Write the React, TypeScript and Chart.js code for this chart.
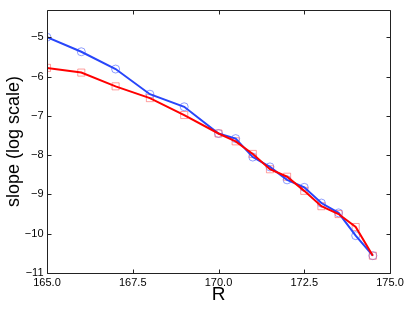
import React, { useEffect, useRef } from "react";
import { Chart, registerables } from "chart.js";

Chart.register(...registerables);

const rValues = [165, 166, 167, 168, 169, 170, 170.5, 171, 171.5, 172, 172.5, 173, 173.5, 174, 174.5];
const blueSlope = [-5.0, -5.37, -5.81, -6.45, -6.77, -7.45, -7.58, -8.05, -8.3, -8.63, -8.82, -9.22, -9.47, -10.05, -10.56];
const redSlope = [-5.78, -5.9, -6.25, -6.55, -6.98, -7.45, -7.65, -7.97, -8.36, -8.55, -8.91, -9.3, -9.5, -9.83, -10.56];
const xTicks = [165, 167.5, 170, 172.5, 175];
const yTicks = [-11, -10, -9, -8, -7, -6, -5];
const xTitle = "R";
const yTitle = "slope (log scale)";

const FONT = "'Liberation Sans', Arial, Helvetica, sans-serif";

const toPts = (ys: number[]) => rValues.map((x, i) => ({ x, y: ys[i] }));

const framePlugin = {
  id: "frame",
  afterDraw(chart: any) {
    const { ctx, chartArea } = chart;
    const { left, right, top, bottom } = chartArea;
    const xs = chart.scales.x;
    const ys = chart.scales.y;
    const L = Math.round(left) + 0.5;
    const R = Math.round(right) + 0.5;
    const T = Math.round(top) + 0.5;
    const B = Math.round(bottom) + 0.5;
    ctx.save();
    ctx.strokeStyle = "#222";
    ctx.lineWidth = 1;
    ctx.beginPath();
    ctx.rect(L, T, R - L, B - T);
    ctx.stroke();
    const tl = 4;
    ctx.beginPath();
    for (const v of xTicks) {
      const px = Math.round(xs.getPixelForValue(v)) + 0.5;
      ctx.moveTo(px, B);
      ctx.lineTo(px, B - tl);
      ctx.moveTo(px, T);
      ctx.lineTo(px, T + tl);
    }
    for (const v of yTicks) {
      const py = Math.round(ys.getPixelForValue(v)) + 0.5;
      ctx.moveTo(L, py);
      ctx.lineTo(L + tl, py);
      ctx.moveTo(R, py);
      ctx.lineTo(R - tl, py);
    }
    ctx.stroke();
    ctx.restore();
  },
};

export default function App() {
  const ref = useRef<HTMLCanvasElement | null>(null);
  useEffect(() => {
    if (!ref.current) return;
    const chart = new Chart(ref.current, {
      type: "line",
      data: {
        datasets: [
          {
            label: "blue markers",
            data: toPts(blueSlope),
            showLine: false,
            pointStyle: "circle",
            pointRadius: 4,
            pointBorderWidth: 1,
            pointBorderColor: "rgba(70,95,255,0.6)",
            pointBackgroundColor: "rgba(0,0,0,0)",
            order: 4,
          },
          {
            label: "red markers",
            data: toPts(redSlope),
            showLine: false,
            pointStyle: "rect",
            pointRadius: 5,
            pointBorderWidth: 1,
            pointBorderColor: "rgba(255,80,80,0.55)",
            pointBackgroundColor: "rgba(0,0,0,0)",
            order: 3,
          },
          {
            label: "blue",
            data: toPts(blueSlope),
            borderColor: "rgb(40,70,250)",
            borderWidth: 2,
            pointRadius: 0,
            tension: 0,
            order: 2,
          },
          {
            label: "red",
            data: toPts(redSlope),
            borderColor: "rgb(255,0,0)",
            borderWidth: 2,
            pointRadius: 0,
            tension: 0,
            order: 1,
          },
        ],
      },
      options: {
        animation: false,
        responsive: false,
        maintainAspectRatio: false,
        layout: { padding: { left: 0, top: 3, right: 17, bottom: 0 } },
        plugins: {
          legend: { display: false },
          tooltip: { enabled: false },
        },
        scales: {
          x: {
            type: "linear",
            min: 165,
            max: 175,
            grid: { display: false, drawTicks: false },
            border: { display: false },
            afterBuildTicks: (s: any) => {
              s.ticks = xTicks.map((v) => ({ value: v }));
            },
            afterFit: (s: any) => {
              s.height = 36;
            },
            ticks: {
              padding: 3,
              color: "#000",
              font: { family: FONT, size: 11 },
              maxRotation: 0,
              autoSkip: false,
              callback: (v: any) => Number(v).toFixed(1),
            },
            title: {
              display: true,
              text: xTitle,
              color: "#000",
              font: { family: FONT, size: 19 },
              padding: { top: 0, bottom: 2.6 },
            },
          },
          y: {
            type: "linear",
            min: -11,
            max: -4.31,
            grid: { display: false, drawTicks: false },
            border: { display: false },
            afterBuildTicks: (s: any) => {
              s.ticks = yTicks.map((v) => ({ value: v }));
            },
            afterFit: (s: any) => {
              s.width = 47;
            },
            ticks: {
              padding: 3.5,
              color: "#000",
              font: { family: FONT, size: 11 },
              autoSkip: false,
              callback: (v: any) => String(v).replace("-", "\u2212"),
            },
            title: {
              display: true,
              text: yTitle,
              color: "#000",
              font: { family: FONT, size: 18 },
              padding: { top: 3, bottom: 0 },
            },
          },
        },
      },
      plugins: [framePlugin],
    });
    return () => chart.destroy();
  }, []);
  return (
    <div style={{ position: "fixed", left: 0, top: 0, width: 407, height: 309, background: "#fff" }}>
      <canvas ref={ref} width={407} height={309} style={{ display: "block", width: 407, height: 309 }} />
    </div>
  );
}
